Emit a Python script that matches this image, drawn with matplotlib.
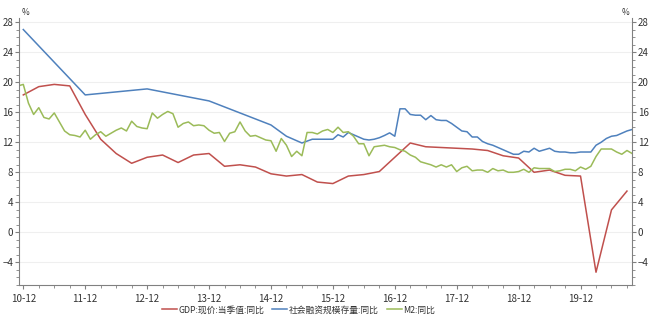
import matplotlib
matplotlib.use('Agg')
import matplotlib.pyplot as plt
from matplotlib.ticker import MultipleLocator
import numpy as np

plt.rcParams['font.family'] = ['Noto Sans CJK SC', 'DejaVu Sans']

# GDP quarterly, 2010-12 .. 2020-09
gdp_start = '2010-12'
gdp = [18.3, 19.4, 19.7, 19.5, 15.7, 12.4, 10.5, 9.2, 10.0, 10.3, 9.3, 10.3, 10.5,
       8.8, 9.0, 8.7, 7.8, 7.5, 7.7, 6.7, 6.5, 7.5, 7.7, 8.1, 10.0,
       11.9, 11.4, 11.3, 11.2, 11.1, 10.9, 10.2, 9.9, 8.0, 8.3, 7.6, 7.5,
       -5.3, 3.0, 5.5]

# social financing stock: sparse points, then monthly from 2016-01
tsf_dates_early = ['2010-12', '2011-12', '2012-12', '2013-12', '2014-12',
                   '2015-03', '2015-06', '2015-08', '2015-12']
tsf_early = [27.0, 18.3, 19.1, 17.5, 14.3, 12.8, 11.9, 12.4, 12.4]
tsf_monthly_start = '2016-01'
tsf_monthly = [13.0, 12.7, 13.3, 13.0, 12.7, 12.4, 12.3, 12.4, 12.6, 12.9, 13.25, 12.8,
               16.45, 16.45, 15.7, 15.6, 15.6, 15.0, 15.55, 15.0, 14.9, 14.9, 14.5, 14.0,
               13.5, 13.4, 12.7, 12.7, 12.1, 11.8, 11.6, 11.3, 11.0, 10.7, 10.4, 10.4,
               10.8, 10.7, 11.2, 10.8, 11.0, 11.2, 10.8, 10.7, 10.7, 10.6, 10.6, 10.7,
               10.7, 10.7, 11.6, 12.0, 12.5, 12.8, 12.9, 13.2, 13.5, 13.7]

# M2 monthly, 2010-11 .. 2020-10
m2_start = '2010-11'
m2 = [19.5, 19.7,
      17.2, 15.7, 16.6, 15.3, 15.1, 15.9, 14.7, 13.5, 13.0, 12.9, 12.7, 13.6,
      12.4, 13.0, 13.4, 12.8, 13.2, 13.6, 13.9, 13.5, 14.8, 14.1, 13.9, 13.8,
      15.9, 15.2, 15.7, 16.1, 15.8, 14.0, 14.5, 14.7, 14.2, 14.3, 14.2, 13.6,
      13.2, 13.3, 12.1, 13.2, 13.4, 14.7, 13.5, 12.8, 12.9, 12.6, 12.3, 12.2,
      10.8, 12.5, 11.6, 10.1, 10.8, 10.2, 13.3, 13.3, 13.1, 13.5, 13.7, 13.3,
      14.0, 13.3, 13.4, 12.8, 11.8, 11.8, 10.2, 11.4, 11.5, 11.6, 11.4, 11.3,
      11.0, 10.8, 10.3, 10.0, 9.4, 9.2, 9.0, 8.7, 9.0, 8.7, 9.0, 8.1,
      8.6, 8.8, 8.2, 8.3, 8.3, 8.0, 8.5, 8.2, 8.3, 8.0, 8.0, 8.1,
      8.4, 8.0, 8.6, 8.5, 8.5, 8.5, 8.1, 8.2, 8.4, 8.4, 8.2, 8.7,
      8.4, 8.8, 10.1, 11.1, 11.1, 11.1, 10.7, 10.4, 10.9, 10.5]

tick_labels = ['10-12', '11-12', '12-12', '13-12', '14-12',
               '15-12', '16-12', '17-12', '18-12', '19-12']

def to_m(s):
    # months since 2010-12
    y, mo = s.split('-')
    return (int(y) - 2010) * 12 + int(mo) - 12

x_gdp = to_m(gdp_start) + 3 * np.arange(len(gdp))
x_tsf = [to_m(d) for d in tsf_dates_early] + list(to_m(tsf_monthly_start) + np.arange(len(tsf_monthly)))
y_tsf = tsf_early + tsf_monthly
x_m2 = to_m(m2_start) + np.arange(len(m2))

fig = plt.figure(figsize=(6.49, 3.18), dpi=100)
ax = fig.add_axes([0.0293, 0.1038, 0.9447, 0.8387])

ax.plot(x_gdp, gdp, color='#C0504D', lw=1.1, label='GDP:现价:当季值:同比')
ax.plot(x_tsf, y_tsf, color='#4F81BD', lw=1.1, label='社会融资规模存量:同比')
ax.plot(x_m2, m2, color='#9BBB59', lw=1.1, label='M2:同比')

ax.set_xlim(-0.83, 118.0)
ax.set_ylim(-7, 28.5)

ax.set_xticks(12 * np.arange(len(tick_labels)))
ax.set_xticklabels(tick_labels)
ax.xaxis.set_minor_locator(MultipleLocator(3))
ax.yaxis.set_major_locator(MultipleLocator(4))
ax.yaxis.set_minor_locator(MultipleLocator(1))

ax.grid(axis='y', color='#efefef', lw=0.8)
ax.set_axisbelow(True)

ax.spines['top'].set_visible(False)
for s in ['left', 'right', 'bottom']:
    ax.spines[s].set_color('#808080')

ax.tick_params(axis='both', which='both', colors='#808080', labelcolor='#333333',
               labelsize=7, length=3)
ax.tick_params(axis='y', which='both', right=True, labelright=True, pad=1)
ax.tick_params(axis='y', which='minor', length=2)
ax.tick_params(axis='x', which='minor', length=2)

ax.text(0.005, 1.005, '%', transform=ax.transAxes, fontsize=6, color='#333333', ha='left', va='bottom')
ax.text(0.995, 1.005, '%', transform=ax.transAxes, fontsize=6, color='#333333', ha='right', va='bottom')

fig.legend(loc='center', bbox_to_anchor=(298.5 / 649, 1 - 310 / 318), ncol=3,
           frameon=False, fontsize=6.3, handlelength=1.7, handletextpad=0.2,
           columnspacing=0.9, labelcolor='#333333')

fig.savefig('out.png', dpi=100)
